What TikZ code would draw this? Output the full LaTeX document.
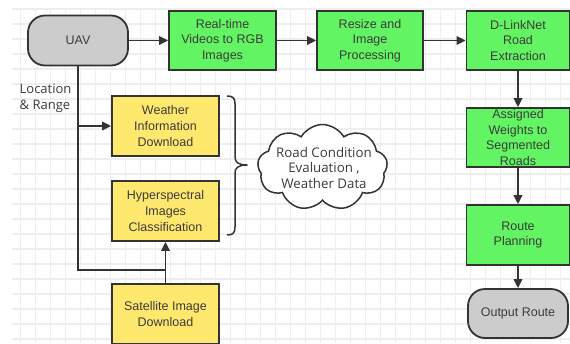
\documentclass[tikz,border=0pt]{standalone}
\usepackage{fontspec}
\setmainfont{Liberation Sans}
\newfontfamily\yahei{Open Sans}
\usetikzlibrary{arrows.meta,shapes.symbols}
\definecolor{boxgreen}{RGB}{98,244,98}
\definecolor{boxyellow}{RGB}{255,232,110}
\definecolor{boxgray}{RGB}{204,204,204}
\definecolor{edgec}{RGB}{51,51,51}
\definecolor{txtc}{RGB}{60,60,60}
\definecolor{gridc}{RGB}{238,238,238}
\begin{document}
\begin{tikzpicture}[x=1pt,y=-1pt,
  box/.style={draw=edgec, line width=1.8pt, text=txtc, align=center,
    font=\fontsize{12.5}{15.6}\selectfont, inner sep=0pt},
  greenbox/.style={box, fill=boxgreen, minimum width=106pt, minimum height=59pt},
  yellowbox/.style={box, fill=boxyellow, minimum width=107pt, minimum height=60pt},
  termbox/.style={box, fill=boxgray, rounded corners=17pt, minimum width=100pt, minimum height=50pt},
  conn/.style={draw=edgec, line width=1.8pt},
  arr/.style={conn, -{Triangle[length=9pt,width=8.5pt]}},
  note/.style={text=txtc, align=left, font=\yahei\fontsize{13}{16}\selectfont, inner sep=0pt},
]
\useasboundingbox (0,0) rectangle (570,343);
\fill[white] (0,0) rectangle (570,343);
% grid
\foreach \x in {20.7,35.7,...,570}
  \draw[gridc, line width=1.2pt] (\x,8) -- (\x,343);
\foreach \y in {9,24,...,343}
  \draw[gridc, line width=1.2pt] (12,\y) -- (570,\y);

% nodes
\node[termbox] (uav) at (78,40.5) {UAV};
\node[greenbox, minimum width=107pt] (rt) at (222.5,40.5) {Real-time\\Videos to RGB\\Images};
\node[greenbox] (rs) at (370,40.5) {Resize and\\Image\\Processing};
\node[greenbox, minimum width=103pt] (dl) at (518,40.5) {D-LinkNet\\Road\\Extraction};
\node[greenbox, minimum width=103pt] (aw) at (518,137.5) {Assigned\\Weights to\\Segmented\\Roads};
\node[greenbox, minimum width=103pt, minimum height=60pt] (rp) at (518,235) {Route\\Planning};
\node[termbox, minimum height=49pt] (out) at (518,313.5) {Output Route};

\node[yellowbox] (wi) at (165.5,126) {Weather\\Information\\Download};
\node[yellowbox] (hs) at (165.5,211) {Hyperspectral\\Images\\Classification};
\node[yellowbox] (sat) at (165.5,314) {Satellite Image\\Download};

\node[note, anchor=west] (loc) at (19.5,98) {Location\\\& Range};

\node[cloud, cloud puffs=9, cloud puff arc=120, cloud ignores aspect,
  draw=edgec, line width=1.5pt, fill=white, minimum width=130pt, minimum height=86pt,
  inner sep=0pt] (cl) at (322.5,167.5) {};
\node[note, align=center, font=\yahei\fontsize{13.3}{15.5}\selectfont] (clt) at (324,168)
  {Road Condition\\Evaluation ,\\Weather Data};

% brace
\draw[edgec, line width=1.5pt, line join=round]
  (227,96) .. controls (233,96) and (235,98) .. (235,104) -- (235,157)
  .. controls (235,162) and (238,165) .. (247,165)
  .. controls (238,165) and (235,168) .. (235,173) -- (235,227)
  .. controls (235,233) and (233,235) .. (227,235);

% connectors
\draw[arr] (uav) -- (rt);
\draw[arr] (rt) -- (rs);
\draw[arr] (rs) -- (dl);
\draw[arr] (dl) -- (aw);
\draw[arr] (aw) -- (rp);
\draw[arr] (rp) -- (out);
\coordinate (j) at (165.5,270);
\draw[conn] (uav.south) |- (j);
\draw[arr] (uav.south |- wi.west) -- (wi.west);
\draw[arr] (sat.north) -- (hs.south);
\end{tikzpicture}
\end{document}
